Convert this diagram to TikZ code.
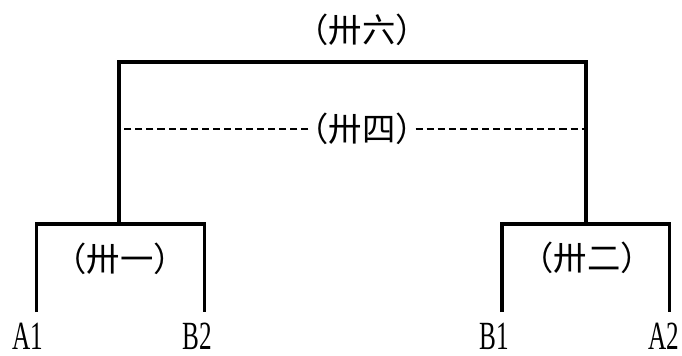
\documentclass[tikz,border=0pt]{standalone}
\usepackage{fontspec}
\newfontfamily\cjk{Noto Sans CJK SC}
\newfontfamily\latin[FakeStretch=0.63]{Liberation Serif}
\usetikzlibrary{positioning,calc}
\tikzstyle{branch}=[line width=2.3pt, line join=miter]
\tikzstyle{guide}=[line width=1.1pt, dash pattern=on 5.3pt off 3pt]
\tikzstyle{leaf}=[anchor=north, inner xsep=0pt, inner ysep=8pt, font=\latin\fontsize{30}{30}\selectfont]
\tikzstyle{tag}=[inner sep=0pt, font=\cjk\fontsize{25}{25}\selectfont]

\begin{document}
\begin{tikzpicture}[x=0.75pt, y=-0.75pt]
	\useasboundingbox (0,0) rectangle (682,356);

	% leaves
	\node[leaf] (A1) at (28,312) {A1};
	\node[leaf] (B2) at (197,312) {B2};
	\node[leaf] (B1) at (494,312) {B1};
	\node[leaf] (A2) at (664,312) {A2};

	% joints
	\coordinate (jl) at (119,224);
	\coordinate (jr) at (586,224);
	\coordinate (root) at (352,62);

	\draw[branch] ([xshift=6.5pt]A1.north) |- (jl) -| ([xshift=5.5pt]B2.north);
	\draw[branch] ([xshift=6pt]B1.north) |- (jr) -| ([xshift=4pt]A2.north);
	\draw[branch] (jl) |- (root) -| (jr);

	% labels
	\node[tag] (t36) at (362,30) {（卅六）};
	\node[tag] (t34) at (362,129) {（卅四）};
	\node[tag] (t31) at (120,259) {（卅一）};
	\node[tag] (t32) at (587,258) {（卅二）};

	\draw[guide] ([xshift=10pt]t34.west) -- ($(t34.west -| jl)+(4,0)$);
	\draw[guide] ([xshift=-10pt]t34.east) -- (t34.east -| jr);
\end{tikzpicture}
\end{document}
